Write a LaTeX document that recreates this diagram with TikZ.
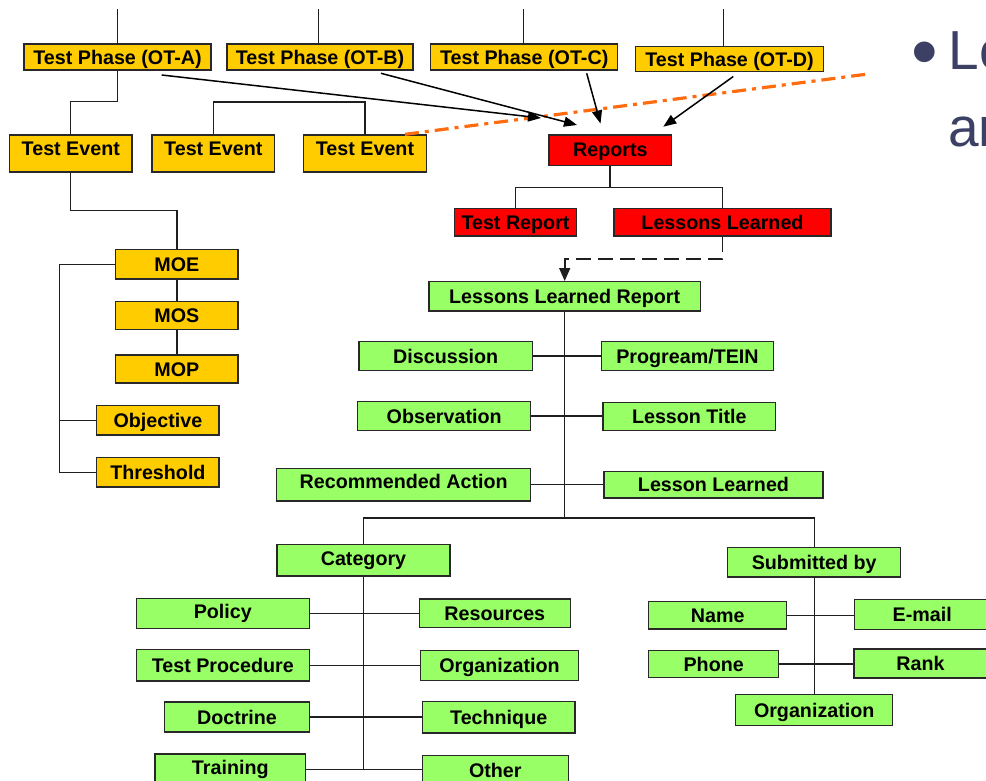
\documentclass[tikz,border=0pt]{standalone}
\usepackage{fontspec}
\setmainfont{Liberation Sans}
\usetikzlibrary{arrows.meta,calc}

\definecolor{phaseyellow}{RGB}{255,204,0}
\definecolor{reportred}{RGB}{255,0,0}
\definecolor{lessongreen}{RGB}{153,255,102}
\definecolor{boxline}{RGB}{40,40,40}
\definecolor{floworange}{RGB}{255,108,16}
\definecolor{slate}{RGB}{60,64,100}

\begin{document}
\begin{tikzpicture}[x=1pt,y=-1pt,
  every node/.style={inner sep=0pt},
  boxbase/.style={draw=boxline, line width=1.3pt,
    font=\bfseries\fontsize{19.7}{22}\selectfont,
    text height=14.1pt, text depth=0pt},
  ybox/.style={boxbase, fill=phaseyellow},
  rbox/.style={boxbase, fill=reportred},
  gbox/.style={boxbase, fill=lessongreen},
  sz/.style 2 args={minimum width=#1pt, minimum height=#2pt},
  lift/.style={text depth=#1pt},
  link/.style={draw=black!88, line width=1.3pt},
  thinlink/.style={draw=black!88, line width=1pt},
  feed/.style={draw=black, line width=1.5pt, -{Triangle[length=13pt,width=10pt]}},
  flow/.style={draw=floworange, line width=3.2pt,
    dash pattern=on 14pt off 6pt on 4pt off 6pt},
  bigtext/.style={text=slate, font=\fontsize{55}{60}\selectfont}
]
\useasboundingbox (0,0) rectangle (986,781);
\clip (0,0) rectangle (986,781);

% ---- test phases and events
\node[ybox, sz={187}{26}] (otA) at (117.5,57) {Test Phase (OT-A)};
\node[ybox, sz={186}{26}] (otB) at (320,57) {Test Phase (OT-B)};
\node[ybox, sz={187}{26}] (otC) at (524.2,57) {Test Phase (OT-C)};
\node[ybox, sz={188}{25}] (otD) at (729.5,59) {Test Phase (OT-D)};

\node[ybox, sz={122.3}{37}, lift=9.4] (te1) at (70.8,153.5) {Test Event};
\node[ybox, sz={122.7}{37}, lift=9.4] (te2) at (213.3,153.5) {Test Event};
\node[ybox, sz={122.6}{37}, lift=9.4] (te3) at (365,153.5) {Test Event};

\node[ybox, sz={122.3}{29.7}] (moe) at (176.9,264.2) {MOE};
\node[ybox, sz={122.3}{28.4}] (mos) at (176.9,315.5) {MOS};
\node[ybox, sz={122.3}{28}] (mop) at (176.9,369) {MOP};
\node[ybox, sz={122.3}{29.3}] (obj) at (157.9,420.3) {Objective};
\node[ybox, sz={122.3}{29.3}] (thr) at (157.9,472.3) {Threshold};

% ---- reports
\node[rbox, sz={122.7}{30.7}, lift=2] (rep) at (610.3,150.3) {Reports};
\node[rbox, sz={122.4}{27.7}] (tr) at (515.5,222.2) {Test Report};
\node[rbox, sz={217}{27.7}] (ll) at (722.5,222.2) {Lessons Learned};

% ---- lessons learned report
\node[gbox, sz={271.3}{29.3}] (llr) at (564.7,296.3) {Lessons Learned Report};
\node[gbox, sz={173.3}{29.4}] (disc) at (445.7,356) {Discussion};
\node[gbox, sz={172.4}{29}] (prog) at (687.5,356) {Progream/TEIN};
\node[gbox, sz={173}{29.3}] (obs) at (444.2,416) {Observation};
\node[gbox, sz={172.7}{27.6}] (ltitle) at (689.3,416.5) {Lesson Title};
\node[gbox, sz={254}{32.7}, lift=5.4] (rec) at (403.7,484.5) {Recommended Action};
\node[gbox, sz={219}{26.7}] (lles) at (713.5,484.7) {Lesson Learned};

% ---- category
\node[gbox, sz={173}{31.7}, lift=2.8] (cat) at (363.5,560.2) {Category};
\node[gbox, sz={173}{29.7}, lift=3] (pol) at (222.8,613.3) {Policy};
\node[gbox, sz={151}{28.4}] (res) at (494.8,613.3) {Resources};
\node[gbox, sz={173}{31.3}] (tp) at (222.8,665.4) {Test Procedure};
\node[gbox, sz={157.6}{29.7}] (org) at (499.5,665.4) {Organization};
\node[gbox, sz={144.6}{30}] (doc) at (237,717) {Doctrine};
\node[gbox, sz={152.7}{31.3}] (tech) at (498.7,717.3) {Technique};
\node[gbox, sz={150.7}{31}, lift=4.5] (trn) at (230.3,769.5) {Training};
\node[gbox, sz={146}{29}] (oth) at (495.3,770) {Other};

% ---- submitted by
\node[gbox, sz={173}{29.3}] (sub) at (814.2,562.3) {Submitted by};
\node[gbox, sz={138}{27.3}] (name) at (717.7,615.3) {Name};
\node[gbox, sz={136}{29.7}] (mail) at (922.2,614.5) {E-mail};
\node[gbox, sz={130}{27.4}] (phone) at (713.7,664) {Phone};
\node[gbox, sz={133}{29}] (rank) at (920.5,663.5) {Rank};
\node[gbox, sz={157}{31.4}] (org2) at (814.2,710) {Organization};

% ---- side heading
\node[bigtext, font=\fontsize{76}{80}\selectfont, anchor=base] (dot) at (924.5,77.3) {•};
\node[bigtext, anchor=base west] (le) at (948.7,70) {Le};
\node[bigtext, anchor=base west] (ar) at (948,146.7) {ar};

% ---- lines into the phases from above
\draw[thinlink] ([yshift=-2pt]otA.north) -- ++(0,-36);
\draw[thinlink] ([xshift=-1.7pt,yshift=-2pt]otB.north) -- ++(0,-36);
\draw[thinlink] ([xshift=-0.5pt,yshift=-2pt]otC.north) -- ++(0,-36);
\draw[thinlink] ([xshift=-6.5pt]otD.north) -- ++(0,-36.7);

% ---- phase / event tree
\draw[link] (otA.south) -- ++(0,31) -| (te1.north);
\draw[link] (te2.north) -- ++(0,-32.3) -| (te3.north);
\draw[link] (te1.south) -- ++(0,38) -| (moe.north);
\draw[link] (moe.south) -- (mos.north);
\draw[link] (mos.south) -- (mop.north);
\coordinate (lb) at (59.3,264.2);
\draw[link] (moe.west) -- (lb) |- (thr.west);
\draw[link] (obj.west) -- (obj.west -| lb);

% ---- orange flow line
\coordinate (flowend) at (868,74);
\draw[flow] ($(te3.north east)+(-22,0)$) -- (flowend);

% ---- phases feeding the reports
\coordinate (aS) at (161.7,75);   \coordinate (aE) at (541,118);
\coordinate (bS) at (381,73.3);   \coordinate (bE) at (577,125);
\coordinate (cS) at (586.7,73.3); \coordinate (cE) at (600.5,123.5);
\coordinate (dS) at (733.3,76.5); \coordinate (dE) at (663.3,126.7);
\draw[feed] (aS) -- (aE);
\draw[feed] (bS) -- (bE);
\draw[feed] (cS) -- (cE);
\draw[feed] (dS) -- (dE);

% ---- reports tree
\coordinate (rb) at ($(rep.south)+(0,21)$);
\draw[link, line width=1.8pt] (rep.south) -- (rb);
\draw[link] (tr.north) |- (rb) -| (ll.north);
\draw[link, line width=1.6pt, dash pattern=on 15pt off 7pt,
      -{Triangle[length=13pt,width=11pt]}]
  (ll.south) -- ++(0,22.3) -| (llr.north);

% ---- lessons learned report tree
\coordinate (bus) at ($(llr.south)+(0,206.3)$);
\draw[link] (llr.south) -- (bus);
\draw[link] (disc.east) -- (disc.east -| prog.west);
\draw[link] (obs.east) -- (obs.east -| ltitle.west);
\draw[link] (rec.east) -- (rec.east -| lles.west);
\draw[link] (cat.north) |- (bus) -| (sub.north);

% ---- category tree
\draw[link] (cat.south) -- (cat.south |- trn.east);
\draw[link] (pol.east) -- (pol.east -| res.west);
\draw[link] (tp.east) -- (tp.east -| org.west);
\draw[link] (doc.east) -- (doc.east -| tech.west);
\draw[link] (trn.east) -- (trn.east -| oth.west);

% ---- submitted-by tree
\draw[link] (sub.south) -- (org2.north);
\draw[link] (name.east) -- (name.east -| mail.west);
\draw[link] (phone.east) -- (phone.east -| rank.west);
\end{tikzpicture}
\end{document}
